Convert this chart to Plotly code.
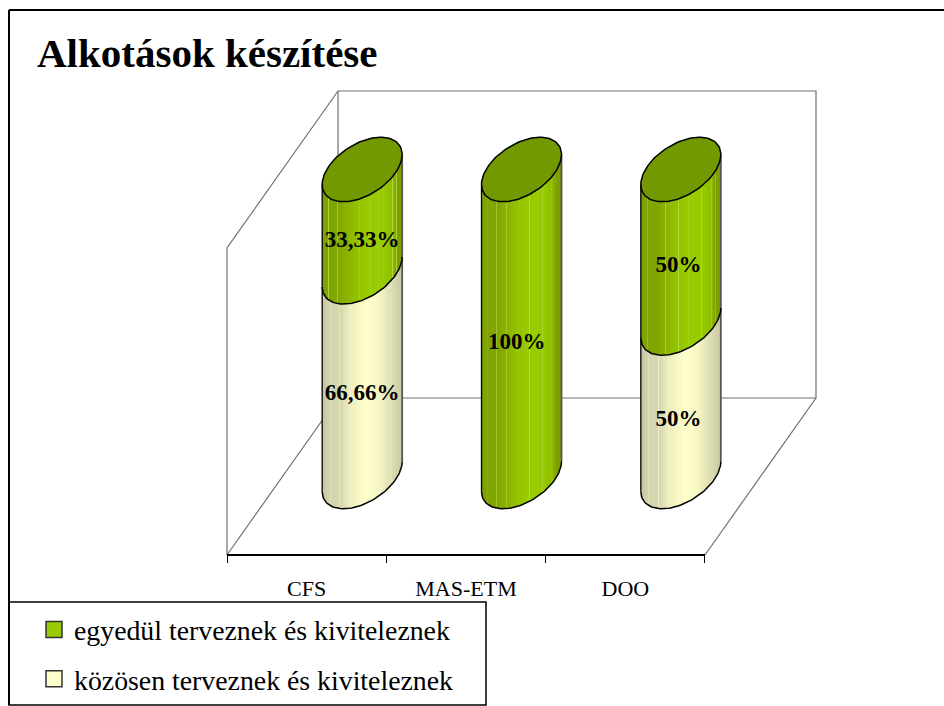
import numpy as np
import plotly.graph_objects as go

TITLE = "Alkotások készítése"
categories = ["CFS", "MAS-ETM", "DOO"]
egyedul = [33.33, 100, 50]
kozosen = [66.66, 0, 50]
egyedul_labels = ["33,33%", "100%", "50%"]
kozosen_labels = ["66,66%", "", "50%"]
egyedul_name = "egyedül terveznek és kivitel" + "eznek"
kozosen_name = "közösen terveznek és kivitel" + "eznek"

W, H = 944, 706
PX_X = 159.33          # pixels per category
PX_Y = 3.07            # pixels per percent
X0, Y0 = 227, 555      # origin of the front floor corner
XR = [-X0 / PX_X, (W - X0) / PX_X]
YR = [-(H - Y0) / PX_Y, Y0 / PX_Y]
DEPTH_X = 111 / PX_X
DEPTH_Y = 157 / PX_Y
A = 40 / PX_X          # ellipse half width
SHEAR = 15 / PX_Y      # ellipse tilt at the extreme
B = 28.5 / PX_Y        # ellipse half height
SOFT = "#707070"


def stripes(base, light, positions):
    """A horizontal shading with thin lighter streaks."""
    stops = []
    for p, c in base:
        stops.append([p, c])
    for p in positions:
        c = min(base, key=lambda s: abs(s[0] - p))[1]
        stops += [[p - 0.006, c], [p, light], [p + 0.006, c]]
    return sorted(stops, key=lambda s: s[0])


GREEN = stripes([[0, "#7c9e00"], [0.12, "#80a400"], [0.3, "#8ab300"], [0.45, "#94c400"],
                 [0.7, "#99cc00"], [0.85, "#90bf00"], [1, "#7f9f00"]],
                "#b3da48", [0.08, 0.19, 0.31, 0.47, 0.6, 0.7, 0.76, 0.88, 0.93])
CREAM = stripes([[0, "#c4c49f"], [0.15, "#d6d6ae"], [0.35, "#eeeebe"], [0.55, "#ffffcc"], [0.7, "#f8f8c6"],
                 [0.85, "#e0e0b4"], [1, "#c8c8a2"]],
                "#f4f4d8", [0.1, 0.22, 0.35, 0.7, 0.85])

fig = go.Figure()


def line(xs, ys, color, width):
    fig.add_trace(go.Scatter(x=xs, y=ys, mode="lines", line=dict(color=color, width=width),
                             showlegend=False, hoverinfo="skip"))


# Walls and floor of the 3-D box
n = len(categories)
top = 100
back_x = [DEPTH_X, DEPTH_X, n + DEPTH_X, n + DEPTH_X, DEPTH_X]
back_y = [DEPTH_Y, top + DEPTH_Y, top + DEPTH_Y, DEPTH_Y, DEPTH_Y]
line(back_x, back_y, SOFT, 1.2)
line([0, 0, DEPTH_X], [0, top, top + DEPTH_Y], SOFT, 1.2)
line([0, DEPTH_X], [0, DEPTH_Y], SOFT, 1.2)
line([n, n + DEPTH_X], [0, DEPTH_Y], SOFT, 1.2)

t_front = np.linspace(np.pi, 0, 61)
t_full = np.linspace(0, 2 * np.pi, 121)


def ell(cx, level, t):
    x = cx + A * np.cos(t)
    y = level + SHEAR * np.cos(t) - B * np.sin(t)
    return x, y


def body(cx, y0, y1, scale):
    xb, yb = ell(cx, y0, t_front)
    xt, yt = ell(cx, y1, t_front[::-1])
    fig.add_trace(go.Scatter(
        x=np.r_[xb, xt], y=np.r_[yb, yt], mode="lines", fill="toself", line=dict(width=0),
        fillgradient=dict(type="horizontal", colorscale=scale, start=cx - A, stop=cx + A),
        showlegend=False, hoverinfo="skip"))
    line([xb[0], xt[-1]], [yb[0], yt[-1]], "#000000", 1.3)
    line([xb[-1], xt[0]], [yb[-1], yt[0]], "#555555", 1.8)
    line(xb, yb, "#000000", 1.5)


for i in range(n):
    cx = i + 0.5 + DEPTH_X / 2
    base = DEPTH_Y / 2
    if kozosen[i] > 0:
        body(cx, base, base + kozosen[i], CREAM)
    body(cx, base + kozosen[i], base + kozosen[i] + egyedul[i], GREEN)
    xt, yt = ell(cx, base + 100, t_full)
    fig.add_trace(go.Scatter(x=xt, y=yt, mode="lines", fill="toself", fillcolor="#739900",
                             line=dict(color="#000000", width=1.5), showlegend=False, hoverinfo="skip"))

# Data labels (sit a little below the segment centre)
LABEL_DROP = 6.6
LABEL_DX = [0, -0.03, -0.015]
for vals, bases, labs in ((kozosen, [0, 0, 0], kozosen_labels), (egyedul, kozosen, egyedul_labels)):
    xs = [i + 0.5 + DEPTH_X / 2 + LABEL_DX[i] for i in range(n)]
    ys = [DEPTH_Y / 2 + bases[i] + vals[i] / 2 - LABEL_DROP for i in range(n)]
    fig.add_trace(go.Scatter(x=xs, y=ys, mode="text", text=labs, textposition="middle center",
                             textfont=dict(family="Liberation Serif", size=23, color="#000000"),
                             texttemplate="<b>%{text}</b>", showlegend=False, hoverinfo="skip"))

# Legend entries
for name, col in ((egyedul_name, "#99cc00"), (kozosen_name, "#ffffcc")):
    fig.add_trace(go.Scatter(x=[None], y=[None], mode="markers", name=name, legendgroup=name,
                             marker=dict(symbol="square", size=16, color=col, line=dict(color="#333333", width=1.5))))

# Category axis, on its own x axis spanning the floor front edge
fig.add_trace(go.Scatter(x=[None], y=[None], xaxis="x2", showlegend=False, hoverinfo="skip"))

frame = dict(type="line", xref="paper", yref="paper", line=dict(color="#000000", width=2))
shapes = [
    dict(frame, x0=9 / W, x1=1, y0=1 - 10 / H, y1=1 - 10 / H),
    dict(frame, x0=9 / W, x1=9 / W, y0=1 - 10 / H, y1=1 - 705 / H),
    dict(type="rect", xref="paper", yref="paper", x0=9 / W, x1=486 / W, y0=1 - 602 / H, y1=1 - 705 / H,
         line=dict(color="#000000", width=1.5), fillcolor="#ffffff", layer="below"),
]

fig.update_layout(
    width=W, height=H, margin=dict(l=0, r=0, t=0, b=0), autosize=False,
    paper_bgcolor="#ffffff", plot_bgcolor="rgba(0,0,0,0)",
    font=dict(family="Liberation Serif", color="#000000"),
    title=dict(text="<b>" + TITLE + "</b>", x=37 / W, xanchor="left", xref="paper",
               y=1 - 53 / H, yanchor="middle", yref="paper",
               font=dict(family="Liberation Serif", size=41, color="#000000")),
    xaxis=dict(range=XR, domain=[0, 1], visible=False, fixedrange=True),
    yaxis=dict(range=YR, domain=[0, 1], visible=False, fixedrange=True),
    xaxis2=dict(domain=[X0 / W, (X0 + n * PX_X) / W], range=[0, n], anchor="free", position=1 - Y0 / H,
                showline=True, linecolor="#000000", linewidth=1.5, showgrid=False, zeroline=False,
                tickmode="array", tickvals=[i + 0.5 for i in range(n)], ticktext=categories,
                ticks="", ticklabelstandoff=14,
                tickfont=dict(family="Liberation Serif", size=22, color="#000000"),
                minor=dict(ticks="outside", ticklen=7, tickcolor="#000000", tickwidth=1, dtick=1, tick0=0, showgrid=False),
                fixedrange=True),
    legend=dict(x=34 / W, xanchor="left", y=1 - 605 / H, yanchor="top", bgcolor="rgba(0,0,0,0)",
                borderwidth=0, font=dict(family="Liberation Serif", size=27.8, color="#000000"),
                tracegroupgap=10, itemclick=False, itemdoubleclick=False),
    shapes=shapes, showlegend=True,
)

fig.write_html("out.html", config={"displayModeBar": False}, post_script="document.body.style.margin='0';")
